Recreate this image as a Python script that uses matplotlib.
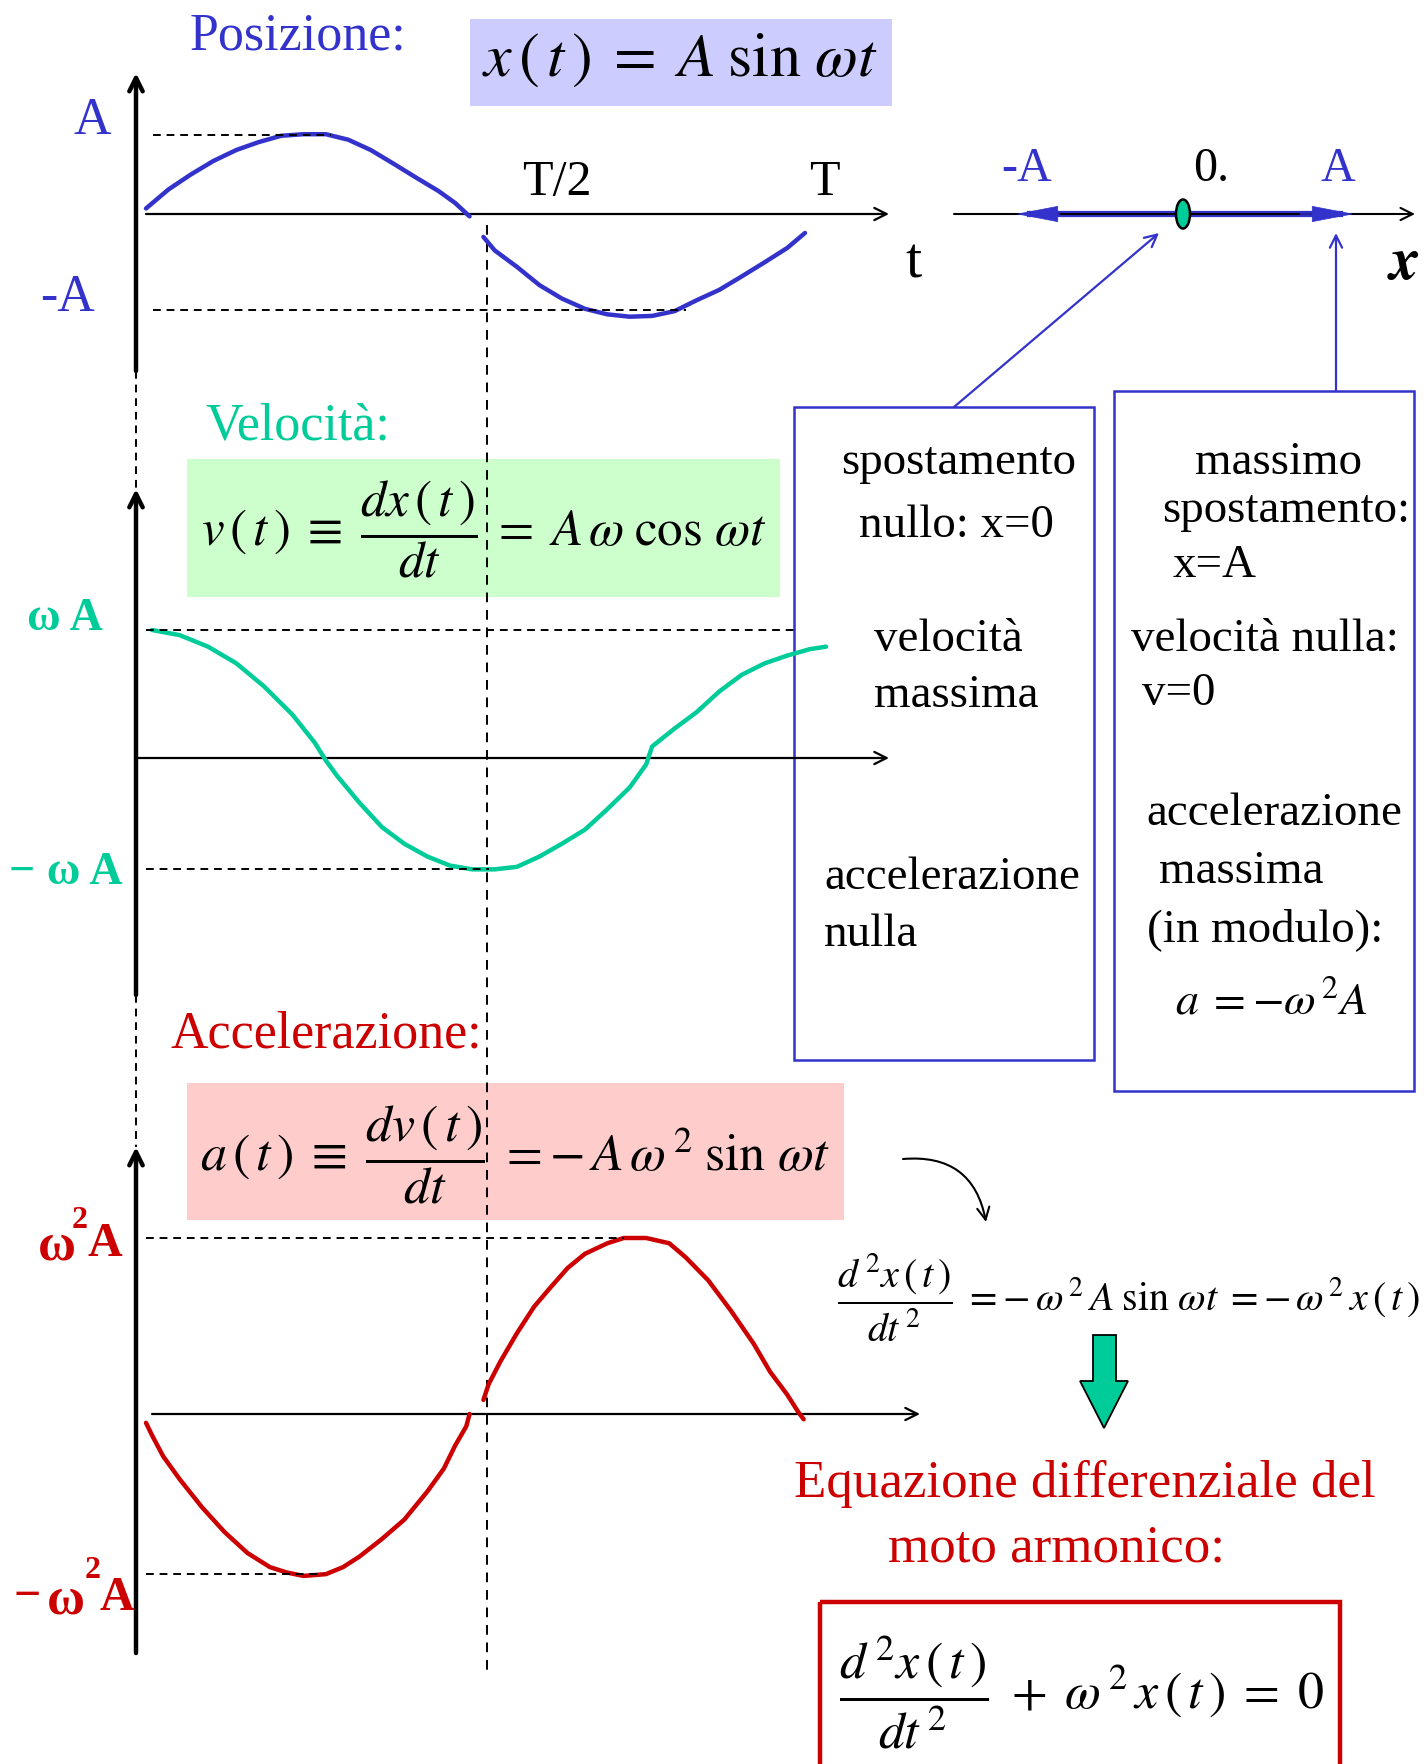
import matplotlib
matplotlib.use('Agg')
import matplotlib.pyplot as plt
from matplotlib.patches import Rectangle, Ellipse, Polygon

plt.rcParams['font.family'] = ['Liberation Serif', 'DejaVu Serif']
plt.rcParams['mathtext.fontset'] = 'stix'

# --- curve data (t in units of T, value in units of the upper level) ---
pos_t_a = [0, 0.034, 0.068, 0.102, 0.137, 0.171, 0.205, 0.239, 0.273, 0.307, 0.341, 0.375, 0.410, 0.444, 0.469, 0.491]
pos_v_a = [0.07, 0.31, 0.50, 0.67, 0.81, 0.91, 0.99, 1.01, 1.01, 0.94, 0.81, 0.64, 0.46, 0.29, 0.14, -0.03]
pos_t_b = [0.512, 0.529, 0.563, 0.597, 0.631, 0.666, 0.700, 0.734, 0.768, 0.802, 0.836, 0.870, 0.904, 0.939, 0.973, 1.0]
pos_v_b = [-0.29, -0.46, -0.67, -0.90, -1.07, -1.20, -1.27, -1.30, -1.29, -1.23, -1.09, -0.96, -0.79, -0.61, -0.43, -0.24]

vel_t = [0.009, 0.051, 0.094, 0.137, 0.179, 0.222, 0.256, 0.273, 0.290, 0.324, 0.358, 0.392, 0.427, 0.461,
         0.495, 0.529, 0.563, 0.597, 0.631, 0.666, 0.700, 0.734, 0.759, 0.768, 0.802, 0.836, 0.870, 0.904,
         0.939, 0.973, 1.007, 1.032]
vel_v = [1.0, 0.96, 0.87, 0.74, 0.56, 0.34, 0.12, -0.02, -0.14, -0.35, -0.54, -0.67, -0.77, -0.84,
         -0.87, -0.87, -0.85, -0.77, -0.67, -0.56, -0.40, -0.23, -0.05, 0.09, 0.23, 0.36, 0.52, 0.65,
         0.74, 0.80, 0.85, 0.87]

acc_t_a = [0, 0.009, 0.026, 0.051, 0.085, 0.119, 0.154, 0.188, 0.213, 0.239, 0.273, 0.299, 0.324, 0.358,
           0.392, 0.427, 0.452, 0.469, 0.486, 0.491]
acc_v_a = [-0.05, -0.12, -0.24, -0.37, -0.53, -0.67, -0.79, -0.87, -0.90, -0.92, -0.91, -0.87, -0.81, -0.71,
           -0.60, -0.44, -0.31, -0.18, -0.07, 0.0]
acc_t_b = [0.512, 0.520, 0.538, 0.563, 0.589, 0.614, 0.640, 0.666, 0.700, 0.725, 0.759, 0.794, 0.819, 0.853,
           0.887, 0.922, 0.947, 0.973, 0.990, 0.998]
acc_v_b = [0.08, 0.17, 0.30, 0.46, 0.61, 0.72, 0.83, 0.91, 0.97, 1.0, 1.0, 0.97, 0.89, 0.76,
           0.59, 0.40, 0.24, 0.11, 0.01, -0.03]

# levels (upper, lower) and where their dashed guides end
pos_levels = [1.0, -1.22]
vel_levels = [1.0, -0.87]
acc_levels = [1.0, -0.91]
pos_guide_end = [0.28, 0.82]
vel_guide_end = [0.99, 0.52]
acc_guide_end = [0.725, 0.27]

pos_labels = ['A', '-A']
vel_labels = ['ω A', '− ω A']

W, H = 1424, 1764
BLUE = '#3333CC'
TEAL = '#00CC99'
RED = '#CC0000'
PT = 0.72  # px -> pt at dpi 100

fig = plt.figure(figsize=(W / 100, H / 100), dpi=100)
ov = fig.add_axes([0, 0, 1, 1])
ov.set_xlim(0, W)
ov.set_ylim(H, 0)
ov.axis('off')

X0, X1 = 146, 805  # pixel x of t=0 and t=T


def graph_axes(y0, unit):
    ax = fig.add_axes([0, 0, 1, 1], facecolor='none')
    span = X1 - X0
    ax.set_xlim(-X0 / span, (W - X0) / span)
    ax.set_ylim((y0 - H) / unit, y0 / unit)
    ax.axis('off')
    return ax


def arrow(x0, y0, x1, y1, color='black', lw=1.5, ms=22, style='->'):
    ov.annotate('', xy=(x1, y1), xytext=(x0, y0),
                arrowprops=dict(arrowstyle=style, color=color, lw=lw, mutation_scale=ms,
                                shrinkA=0, shrinkB=0))


def dash(ax, xs, ys):
    ax.plot(xs, ys, color='black', lw=1.4, ls=(0, (4, 3)))


def txt(x, y, s, size, color='black', ha='center', **kw):
    ov.text(x, y, s, fontsize=size * PT, color=color, ha=ha, va='center', **kw)


# ---------- left column: axes ----------
AX_X = 136
ov.plot([AX_X, AX_X], [371, 489], color='black', lw=1.4, ls=(0, (4, 3)))
ov.plot([AX_X, AX_X], [995, 1147], color='black', lw=1.4, ls=(0, (4, 3)))
ov.plot([487, 487], [225, 1670], color='black', lw=1.4, ls=(0, (5, 4)))

for ytop, ybot in [(73, 371), (489, 995), (1147, 1653)]:
    arrow(AX_X, ybot, AX_X, ytop, lw=3.2, ms=24)
arrow(146, 214, 889, 214, lw=1.6)
arrow(136, 758, 889, 758, lw=1.6)
arrow(152, 1414, 920, 1414, lw=1.6)

# colored formula boxes
ov.add_patch(Rectangle((470, 19), 422, 87, fc='#CCCCFF', ec='none'))
ov.add_patch(Rectangle((187, 459), 593, 138, fc='#CCFFCC', ec='none'))
ov.add_patch(Rectangle((187, 1083), 657, 137, fc='#FFCCCC', ec='none'))

txt(298, 36, 'Posizione:', 52, BLUE)
txt(298, 427, 'Velocità:', 52, TEAL)
txt(326, 1035, 'Accelerazione:', 52, RED)

txt(680, 60, r'$x\,(\,t\,)\;=\;A\;\sin\,\omega t$', 62)
txt(484, 529, r'$v\,(\,t\,)\;\equiv\;\dfrac{dx\,(\,t\,)}{dt}\;=\;A\,\omega\;\cos\,\omega t$', 51)
txt(515, 1155, r'$a\,(\,t\,)\;\equiv\;\dfrac{dv\,(\,t\,)}{dt}\;=-\,A\,\omega^{\,2}\;\sin\,\omega t$', 52)

# ---------- curves ----------
ax_p = graph_axes(214, 79)
ax_p.plot(pos_t_a, pos_v_a, color=BLUE, lw=3.2, solid_capstyle='round')
ax_p.plot(pos_t_b, pos_v_b, color=BLUE, lw=3.2, solid_capstyle='round')
for lev, end in zip(pos_levels, pos_guide_end):
    dash(ax_p, [0.01, end], [lev, lev])

ax_v = graph_axes(758, 128)
ax_v.plot(vel_t, vel_v, color=TEAL, lw=3.2, solid_capstyle='round')
for lev, end in zip(vel_levels, vel_guide_end):
    dash(ax_v, [0.0, end], [lev, lev])

ax_a = graph_axes(1414, 176)
ax_a.plot(acc_t_a, acc_v_a, color=RED, lw=3.2, solid_capstyle='round')
ax_a.plot(acc_t_b, acc_v_b, color=RED, lw=3.2, solid_capstyle='round')
for lev, end in zip(acc_levels, acc_guide_end):
    dash(ax_a, [0.0, end], [lev, lev])

# level labels
txt(92, 121, pos_labels[0], 52, BLUE)
txt(67, 298, pos_labels[1], 52, BLUE)
txt(65, 619, vel_labels[0], 46, TEAL, weight='bold')
txt(66, 873, vel_labels[1], 46, TEAL, weight='bold')
# omega squared A labels (superscript 2 sits high, as in the slide)
txt(57, 1247, 'ω', 52, RED, weight='bold')
txt(80, 1220, '2', 32, RED, weight='bold')
txt(105, 1244, 'A', 48, RED, weight='bold')
txt(27, 1597, '−', 48, RED, weight='bold')
txt(66, 1600, 'ω', 52, RED, weight='bold')
txt(93, 1571, '2', 32, RED, weight='bold')
txt(117, 1598, 'A', 48, RED, weight='bold')

txt(557, 183, 'T/2', 50)
txt(824, 183, 'T', 50)
txt(913, 264, 't', 58)

# ---------- right column: x axis ----------
arrow(954, 214, 1415, 214, lw=1.5)
ov.plot([1030, 1340], [214, 214], color=BLUE, lw=4.5)
head = 'simple,head_length=1.3,head_width=0.5,tail_width=0.01'
arrow(1060, 214, 1018, 214, color=BLUE, lw=0.5, ms=22, style=head)
arrow(1300, 214, 1352, 214, color=BLUE, lw=0.5, ms=22, style=head)
ov.add_patch(Ellipse((1183, 214), 14, 29, fc=TEAL, ec='black', lw=1.8, zorder=5))
txt(1027, 169, '-A', 48, BLUE)
txt(1211, 169, '0.', 48)
txt(1338, 169, 'A', 48, BLUE)
txt(1403, 265, r'$\boldsymbol{x}$', 60)

arrow(954, 407, 1159, 233, color=BLUE, lw=1.6, ms=22)
arrow(1336, 391, 1336, 233, color=BLUE, lw=1.6, ms=22)

ov.add_patch(Rectangle((794, 407), 300, 653, fc='none', ec=BLUE, lw=1.8))
ov.add_patch(Rectangle((1114, 391), 300, 700, fc='none', ec=BLUE, lw=1.8))

DY = 4
txt(959, 459 + DY, 'spostamento', 47)
txt(956, 522 + DY, 'nullo: x=0', 47)
txt(948, 636 + DY, 'velocità', 47)
txt(956, 692 + DY, 'massima', 47)
txt(824, 874 + DY, 'accelerazione', 47, ha='left')
txt(824, 931 + DY, 'nulla', 47, ha='left')

txt(1278, 459 + DY, 'massimo', 47)
txt(1286, 507 + DY, 'spostamento:', 47)
txt(1173, 562 + DY, 'x=A', 47, ha='left')
txt(1265, 636 + DY, 'velocità nulla:', 47)
txt(1142, 690 + DY, 'v=0', 47, ha='left')
txt(1274, 810 + DY, 'accelerazione', 47)
txt(1159, 868 + DY, 'massima', 47, ha='left')
txt(1265, 926 + DY, '(in modulo):', 47)
txt(1271, 1003, r'$a\;=-\omega^{\,2}A$', 46)

# ---------- right column: differential equation ----------
ov.annotate('', xy=(986, 1222), xytext=(903, 1159),
            arrowprops=dict(arrowstyle='->', color='black', lw=1.5, mutation_scale=22,
                            connectionstyle='arc3,rad=-0.45', shrinkA=0, shrinkB=0))
txt(1128, 1298, r'$\dfrac{d^{\,2}x\,(\,t\,)}{dt^{\,2}}\;=-\,\omega^{\,2}\,A\;\sin\,\omega t\;=-\,\omega^{\,2}\,x\,(\,t\,)$', 40)

ov.add_patch(Polygon([(1093, 1335), (1116, 1335), (1116, 1381), (1128, 1381), (1104, 1428),
                      (1080, 1381), (1093, 1381)], closed=True, fc=TEAL, ec='black', lw=1.3))

txt(1085, 1484, 'Equazione differenziale del', 53, RED)
txt(1057, 1549, 'moto armonico:', 53, RED)

ov.add_patch(Rectangle((820, 1602), 520, 200, fc='none', ec=RED, lw=3.2))
txt(1081, 1692, r'$\dfrac{d^{\,2}x\,(\,t\,)}{dt^{\,2}}\;+\;\omega^{\,2}\,x\,(\,t\,)\;=\;0$', 52)

fig.savefig('out.png', dpi=100)
